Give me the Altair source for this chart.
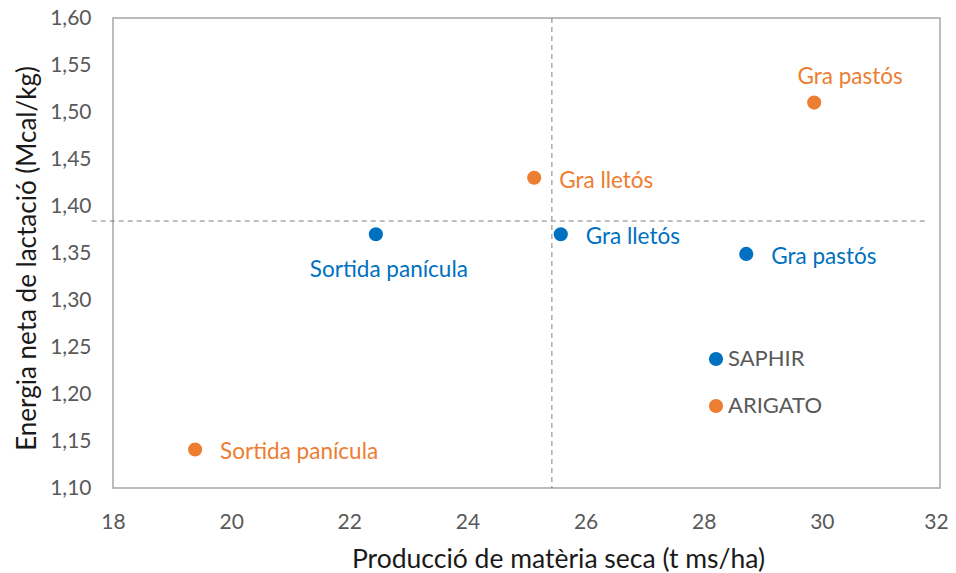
import altair as alt
import pandas as pd

# data
varietats = ["SAPHIR", "SAPHIR", "SAPHIR", "ARIGATO", "ARIGATO", "ARIGATO"]
estadis = ["Sortida panícula", "Gra lletós", "Gra pastós",
           "Sortida panícula", "Gra lletós", "Gra pastós"]
produccio = [22.45, 25.58, 28.72, 19.39, 25.13, 29.87]
energia = [1.370, 1.370, 1.349, 1.141, 1.430, 1.510]
mitjana_x = 25.43
mitjana_y = 1.384
linia_h_inici = 17.64
linia_h_final = 31.75
x_ticks = [18, 20, 22, 24, 26, 28, 30, 32]
y_ticks = [1.10, 1.15, 1.20, 1.25, 1.30, 1.35, 1.40, 1.45, 1.50, 1.55, 1.60]

df = pd.DataFrame({"varietat": varietats, "estadi": estadis,
                   "x": produccio, "y": energia})

FONT = "Lato"
BLUE = "#0070C0"
ORANGE = "#ED7D31"
GRAY = "#595959"

xs = alt.Scale(domain=[18, 32], nice=False, zero=False)
ys = alt.Scale(domain=[1.10, 1.60], nice=False, zero=False)
cscale = alt.Scale(domain=["SAPHIR", "ARIGATO"], range=[BLUE, ORANGE])
color = alt.Color("varietat:N", scale=cscale,
                  legend=alt.Legend(title=None, orient="none", legendX=592, legendY=330,
                                    symbolType="circle", symbolSize=200, symbolStrokeWidth=0,
                                    labelFont=FONT, labelFontSize=22, labelColor=GRAY,
                                    rowPadding=25, padding=0, labelOffset=1))

base = alt.Chart(df)

points = base.mark_point(filled=True, size=200, opacity=1).encode(
    x=alt.X("x:Q", scale=xs,
            axis=alt.Axis(values=x_ticks, title="Producció de matèria seca (t ms/ha)",
                          format="d", labelFlush=False, titleX=445,
                          labelOffset={"expr": "datum.value == 32 ? -4 : 0"},
                          grid=False, ticks=False, domain=False, labelPadding=23,
                          titlePadding=14, titleFontSize=26.5)),
    y=alt.Y("y:Q", scale=ys,
            axis=alt.Axis(values=y_ticks, title="Energia neta de lactació (Mcal/kg)",
                          labelExpr="replace(format(datum.value, '.2f'), '.', ',')",
                          labelFlush=False, titleY=240,
                          grid=False, ticks=False, domain=False, labelPadding=22,
                          titlePadding=9, titleFontSize=26)),
    color=color,
)

def labels(filt, align, dx, dy):
    return base.transform_filter(filt).mark_text(
        align=align, baseline="middle", dx=dx, dy=dy, font=FONT, fontSize=22.5
    ).encode(x=alt.X("x:Q", scale=xs), y=alt.Y("y:Q", scale=ys),
             text="estadi:N", color=alt.Color("varietat:N", legend=None, scale=cscale))

lab_right = labels("!(datum.varietat == 'ARIGATO' && datum.estadi == 'Gra pastós') && "
                   "!(datum.varietat == 'SAPHIR' && datum.estadi == 'Sortida panícula')",
                   "left", 25, 3)
lab_top = labels("datum.varietat == 'ARIGATO' && datum.estadi == 'Gra pastós'",
                 "center", 36, -26)
lab_bottom = labels("datum.varietat == 'SAPHIR' && datum.estadi == 'Sortida panícula'",
                    "center", 13, 36)

vrule = alt.Chart(pd.DataFrame({"x": [mitjana_x]})).mark_rule(
    color="#7f7f7f", strokeDash=[5, 4], strokeWidth=1
).encode(x=alt.X("x:Q", scale=xs))

hrule = alt.Chart(pd.DataFrame({"y": [mitjana_y], "x1": [linia_h_inici], "x2": [linia_h_final]})).mark_rule(
    color="#7f7f7f", strokeDash=[5, 4], strokeWidth=1, clip=False
).encode(y=alt.Y("y:Q", scale=ys), x=alt.X("x1:Q", scale=xs), x2="x2:Q")

chart = alt.layer(vrule, hrule, points, lab_right, lab_top, lab_bottom).properties(
    width=827, height=470,
    autosize=alt.AutoSizeParams(type="none"),
    padding={"left": 105, "top": 10, "right": 8, "bottom": 85},
).configure_view(stroke="#A6A6A6", strokeWidth=1.5).configure_axis(
    labelFont=FONT, labelFontSize=21, labelColor=GRAY,
    titleFont=FONT, titleFontSize=25.3, titleColor="#1a1a1a", titleFontWeight="normal",
)

chart.save("out.html", embed_options={"renderer": "svg", "actions": False})
